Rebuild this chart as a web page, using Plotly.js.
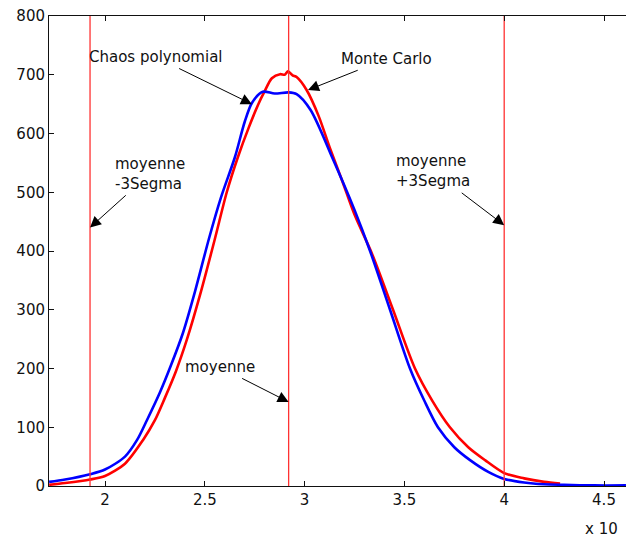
<!DOCTYPE html>
<html>
<head>
<meta charset="utf-8">
<script src="https://cdn.plot.ly/plotly-3.0.1.min.js"></script>
<style>html,body{margin:0;padding:0;background:#fff;overflow:hidden}</style>
</head>
<body>
<div id="chart" style="width:626px;height:539px"></div>
<script>
// Monte Carlo (red) density
const mcX = [1.72, 1.80, 1.925, 2.00, 2.10, 2.19, 2.25, 2.30, 2.355, 2.41, 2.48, 2.55, 2.61, 2.666, 2.72, 2.767, 2.80, 2.836, 2.877, 2.90, 2.917, 2.94, 2.96, 3.01, 3.07, 3.127, 3.19, 3.25, 3.338, 3.443, 3.553, 3.64, 3.728, 3.82, 3.904, 4.00, 4.10, 4.20, 4.28];
const mcY = [2, 5, 11, 17, 38, 78, 112, 150, 195, 249, 330, 420, 500, 560, 610, 649, 672, 694, 701, 700, 706, 699, 696, 674, 630, 575, 518, 462, 395, 300, 200, 145, 100, 66, 44, 22, 13, 7, 4];
// Chaos polynomial (blue) density
const pcX = [1.72, 1.80, 1.925, 2.00, 2.10, 2.16, 2.21, 2.276, 2.33, 2.39, 2.45, 2.52, 2.58, 2.651, 2.70, 2.736, 2.79, 2.85, 2.92, 2.96, 3.03, 3.14, 3.25, 3.328, 3.428, 3.528, 3.60, 3.668, 3.75, 3.829, 3.92, 4.00, 4.10, 4.20, 4.30, 4.45, 4.61];
const pcY = [7, 11, 20, 28, 50, 78, 112, 160, 205, 260, 330, 420, 490, 560, 620, 652, 671, 668, 670, 667, 640, 558, 470, 400, 300, 200, 145, 100, 66, 44, 24, 12, 6, 3, 2, 1, 1];
// vertical reference lines: moyenne-3Segma, moyenne, moyenne+3Segma
const refX = [1.925, 2.92, 4.0];
const xTicks = [2, 2.5, 3, 3.5, 4, 4.5];
const xTickText = ['2', '2.5', '3', '3.5', '4', '4.5'];
const yTicks = [0, 100, 200, 300, 400, 500, 600, 700, 800];

const font = {family: 'DejaVu Sans', size: 15, color: '#111'};

const traces = [
  {x: mcX, y: mcY, mode: 'lines', line: {color: '#ff0000', width: 2.6, shape: 'spline', smoothing: 0.8}, hoverinfo: 'skip'},
  {x: pcX, y: pcY, mode: 'lines', line: {color: '#0000ff', width: 2.6, shape: 'spline', smoothing: 0.8}, hoverinfo: 'skip'}
];
refX.forEach(v => traces.push({
  x: [v, v], y: [0, 800], mode: 'lines',
  line: {color: 'rgb(255,50,50)', width: 1.3}, hoverinfo: 'skip'
}));

function arrowNote(x, y, text, ax, ay, align) {
  return {x: x, y: y, xref: 'x', yref: 'y', text: text, showarrow: true,
    ax: ax, ay: ay, arrowhead: 2, arrowsize: 2.2, arrowwidth: 1, arrowcolor: '#000',
    align: align || 'center', font: font, standoff: 0, startstandoff: 2};
}

const layout = {
  width: 626, height: 539,
  margin: {l: 49, r: 0, t: 16, b: 53},
  paper_bgcolor: '#fff', plot_bgcolor: '#fff',
  showlegend: false,
  font: font,
  xaxis: {range: [1.7194, 4.6102], tickvals: xTicks, ticktext: xTickText,
    ticks: 'inside', ticklen: 5, tickcolor: '#111', showline: true, linecolor: '#111', linewidth: 1,
    mirror: 'ticks', showgrid: false, zeroline: false, tickfont: font},
  yaxis: {range: [0, 800], tickvals: yTicks,
    ticks: 'inside', ticklen: 5, tickcolor: '#111', showline: true, linecolor: '#111', linewidth: 1,
    mirror: false, showgrid: false, zeroline: false, tickfont: font},
  annotations: [
    arrowNote(2.736, 650, 'Chaos polynomial', -96, -47),
    arrowNote(3.017, 674, 'Monte Carlo', 78, -31),
    arrowNote(1.925, 440, 'moyenne<br>-3Segma', 60, -54, 'left'),
    arrowNote(4.0, 444, 'moyenne<br>+3Segma', -71, -54, 'left'),
    arrowNote(2.92, 143, 'moyenne', -69, -35),
    {xref: 'paper', yref: 'paper', x: 1, y: 0, xanchor: 'right', yanchor: 'middle', yshift: -43, xshift: -6,
     text: 'x 10', showarrow: false, font: font}
  ]
};

Plotly.newPlot('chart', traces, layout, {staticPlot: true});
</script>
</body>
</html>
